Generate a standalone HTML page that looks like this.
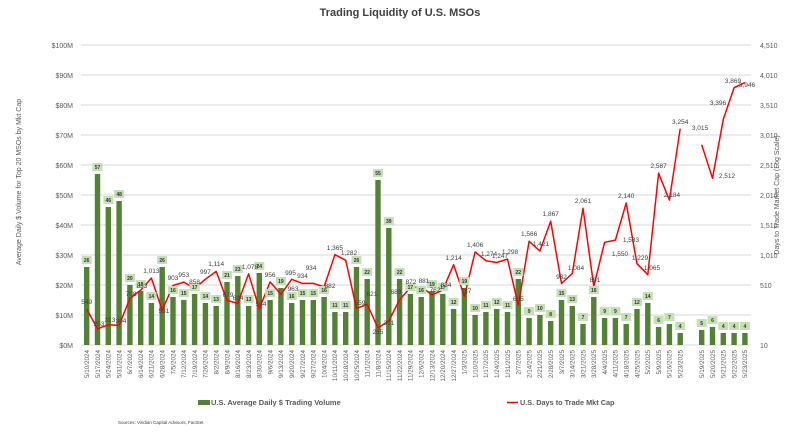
<!DOCTYPE html>
<html><head><meta charset="utf-8"><style>
body{margin:0;background:#fff}
svg{display:block;font-family:"Liberation Sans",sans-serif}
.g{stroke:#d9d9d9;stroke-width:1}
.t{font-size:7px;fill:#595959}
.b{fill:#548235}
.lb{fill:#c5e0b4}
.bt{font-size:5px;font-weight:bold;fill:#333;text-anchor:middle}
.lt{font-size:6.5px;fill:#404040;text-anchor:middle}
.xl{font-size:6.3px;fill:#595959;text-anchor:end}
</style></head><body>
<svg width="800" height="441" viewBox="0 0 800 441">
<text x="400" y="16" text-anchor="middle" font-size="11" font-weight="bold" fill="#404040">Trading Liquidity of U.S. MSOs</text>
<g class="g">
<line x1="81" x2="751" y1="45" y2="45"/><line x1="81" x2="751" y1="75" y2="75"/><line x1="81" x2="751" y1="105" y2="105"/><line x1="81" x2="751" y1="135" y2="135"/><line x1="81" x2="751" y1="165" y2="165"/><line x1="81" x2="751" y1="195" y2="195"/><line x1="81" x2="751" y1="225" y2="225"/><line x1="81" x2="751" y1="255" y2="255"/><line x1="81" x2="751" y1="285" y2="285"/><line x1="81" x2="751" y1="315" y2="315"/><line x1="81" x2="751" y1="345" y2="345"/>
</g>
<g class="t" text-anchor="end">
<text x="73" y="48">$100M</text><text x="73" y="78">$90M</text><text x="73" y="108">$80M</text><text x="73" y="138">$70M</text><text x="73" y="168">$60M</text><text x="73" y="198">$50M</text><text x="73" y="228">$40M</text><text x="73" y="258">$30M</text><text x="73" y="288">$20M</text><text x="73" y="318">$10M</text><text x="73" y="348">$0M</text>
</g>
<g class="t">
<text x="760" y="48">4,510</text><text x="760" y="78">4,010</text><text x="760" y="108">3,510</text><text x="760" y="138">3,010</text><text x="760" y="168">2,510</text><text x="760" y="198">2,010</text><text x="760" y="228">1,510</text><text x="760" y="258">1,010</text><text x="760" y="288">510</text><text x="760" y="348">10</text>
</g>
<text transform="translate(21,182) rotate(-90)" text-anchor="middle" font-size="7" fill="#595959">Average Daily $ Volume for Top 20 MSOs by Mkt Cap</text>
<text transform="translate(779,195) rotate(-90)" text-anchor="middle" font-size="7" fill="#595959">Days to Trade Market Cap (Log Scale)</text>
<g class="b">
<rect x="84" y="267" width="5.4" height="78"/><rect x="94.8" y="174" width="5.4" height="171"/><rect x="105.6" y="207" width="5.4" height="138"/><rect x="116.4" y="201" width="5.4" height="144"/><rect x="127.2" y="285" width="5.4" height="60"/><rect x="138" y="291" width="5.4" height="54"/><rect x="148.7" y="303" width="5.4" height="42"/><rect x="159.5" y="267" width="5.4" height="78"/><rect x="170.3" y="297" width="5.4" height="48"/><rect x="181.1" y="300" width="5.4" height="45"/><rect x="191.9" y="294" width="5.4" height="51"/><rect x="202.7" y="303" width="5.4" height="42"/><rect x="213.5" y="306" width="5.4" height="39"/><rect x="224.3" y="282" width="5.4" height="63"/><rect x="235.1" y="276" width="5.4" height="69"/><rect x="245.9" y="306" width="5.4" height="39"/><rect x="256.6" y="273" width="5.4" height="72"/><rect x="267.4" y="300" width="5.4" height="45"/><rect x="278.2" y="288" width="5.4" height="57"/><rect x="289" y="303" width="5.4" height="42"/><rect x="299.8" y="300" width="5.4" height="45"/><rect x="310.6" y="300" width="5.4" height="45"/><rect x="321.4" y="297" width="5.4" height="48"/><rect x="332.2" y="312" width="5.4" height="33"/><rect x="343" y="312" width="5.4" height="33"/><rect x="353.8" y="267" width="5.4" height="78"/><rect x="364.5" y="279" width="5.4" height="66"/><rect x="375.3" y="180" width="5.4" height="165"/><rect x="386.1" y="228" width="5.4" height="117"/><rect x="396.9" y="279" width="5.4" height="66"/><rect x="407.7" y="294" width="5.4" height="51"/><rect x="418.5" y="297" width="5.4" height="48"/><rect x="429.3" y="291" width="5.4" height="54"/><rect x="440.1" y="294" width="5.4" height="51"/><rect x="450.9" y="309" width="5.4" height="36"/><rect x="461.7" y="288" width="5.4" height="57"/><rect x="472.4" y="315" width="5.4" height="30"/><rect x="483.2" y="312" width="5.4" height="33"/><rect x="494" y="309" width="5.4" height="36"/><rect x="504.8" y="312" width="5.4" height="33"/><rect x="515.6" y="279" width="5.4" height="66"/><rect x="526.4" y="318" width="5.4" height="27"/><rect x="537.2" y="315" width="5.4" height="30"/><rect x="548" y="321" width="5.4" height="24"/><rect x="558.8" y="300" width="5.4" height="45"/><rect x="569.6" y="306" width="5.4" height="39"/><rect x="580.3" y="324" width="5.4" height="21"/><rect x="591.1" y="297" width="5.4" height="48"/><rect x="601.9" y="318" width="5.4" height="27"/><rect x="612.7" y="318" width="5.4" height="27"/><rect x="623.5" y="324" width="5.4" height="21"/><rect x="634.3" y="309" width="5.4" height="36"/><rect x="645.1" y="303" width="5.4" height="42"/><rect x="655.9" y="327" width="5.4" height="18"/><rect x="666.7" y="324" width="5.4" height="21"/><rect x="677.5" y="333" width="5.4" height="12"/><rect x="699" y="330" width="5.4" height="15"/><rect x="709.8" y="327" width="5.4" height="18"/><rect x="720.6" y="333" width="5.4" height="12"/><rect x="731.4" y="333" width="5.4" height="12"/><rect x="742.2" y="333" width="5.4" height="12"/>
</g>
<polyline fill="none" stroke="#ff0000" stroke-width="1.5" stroke-linejoin="round" points="86.7,309.1 97.5,328.8 108.3,324.8 119.1,325.4 129.9,298.5 140.7,290.1 151.4,278.1 162.2,310.3 173,285.5 183.8,282.1 194.6,288.5 205.4,279.2 216.2,271.4 227,300.4 237.8,303.4 248.6,273.8 259.3,308.7 270.1,281.9 280.9,294.3 291.7,279.3 302.5,283.4 313.3,283.4 324.1,286.9 334.9,254.7 345.7,260.2 356.5,308.4 367.2,304.3 378,328 388.8,320.9 399.6,299.7 410.4,287.5 421.2,286.9 432,294.9 442.8,290.1 453.6,264.7 464.4,296.5 475.1,251.9 485.9,260.7 496.7,262.5 507.5,259.1 518.3,305.3 529.1,241.3 539.9,250.9 550.7,221.2 561.5,283.5 572.3,273.4 583,208.3 593.8,286.3 604.6,242.3 615.4,240.1 626.2,203 637,263.7 647.8,274.7 658.6,173.2 669.4,200.1 680.2,128.7"/>
<polyline fill="none" stroke="#ff0000" stroke-width="1.5" stroke-linejoin="round" points="701.7,144.7 712.5,178.2 723.3,119.3 734.1,87.7 744.9,82.6"/>
<g class="lb">
<rect x="81.7" y="256" width="10" height="8"/><rect x="92.5" y="163" width="10" height="8"/><rect x="103.3" y="196" width="10" height="8"/><rect x="114.1" y="190" width="10" height="8"/><rect x="124.9" y="274" width="10" height="8"/><rect x="135.7" y="280" width="10" height="8"/><rect x="146.4" y="292" width="10" height="8"/><rect x="157.2" y="256" width="10" height="8"/><rect x="168" y="286" width="10" height="8"/><rect x="178.8" y="289" width="10" height="8"/><rect x="189.6" y="283" width="10" height="8"/><rect x="200.4" y="292" width="10" height="8"/><rect x="211.2" y="295" width="10" height="8"/><rect x="222" y="271" width="10" height="8"/><rect x="232.8" y="265" width="10" height="8"/><rect x="243.6" y="295" width="10" height="8"/><rect x="254.3" y="262" width="10" height="8"/><rect x="265.1" y="289" width="10" height="8"/><rect x="275.9" y="277" width="10" height="8"/><rect x="286.7" y="292" width="10" height="8"/><rect x="297.5" y="289" width="10" height="8"/><rect x="308.3" y="289" width="10" height="8"/><rect x="319.1" y="286" width="10" height="8"/><rect x="329.9" y="301" width="10" height="8"/><rect x="340.7" y="301" width="10" height="8"/><rect x="351.5" y="256" width="10" height="8"/><rect x="362.2" y="268" width="10" height="8"/><rect x="373" y="169" width="10" height="8"/><rect x="383.8" y="217" width="10" height="8"/><rect x="394.6" y="268" width="10" height="8"/><rect x="405.4" y="283" width="10" height="8"/><rect x="416.2" y="286" width="10" height="8"/><rect x="427" y="280" width="10" height="8"/><rect x="437.8" y="283" width="10" height="8"/><rect x="448.6" y="298" width="10" height="8"/><rect x="459.4" y="277" width="10" height="8"/><rect x="470.1" y="304" width="10" height="8"/><rect x="480.9" y="301" width="10" height="8"/><rect x="491.7" y="298" width="10" height="8"/><rect x="502.5" y="301" width="10" height="8"/><rect x="513.3" y="268" width="10" height="8"/><rect x="524.1" y="307" width="10" height="8"/><rect x="534.9" y="304" width="10" height="8"/><rect x="545.7" y="310" width="10" height="8"/><rect x="556.5" y="289" width="10" height="8"/><rect x="567.3" y="295" width="10" height="8"/><rect x="578" y="313" width="10" height="8"/><rect x="588.8" y="286" width="10" height="8"/><rect x="599.6" y="307" width="10" height="8"/><rect x="610.4" y="307" width="10" height="8"/><rect x="621.2" y="313" width="10" height="8"/><rect x="632" y="298" width="10" height="8"/><rect x="642.8" y="292" width="10" height="8"/><rect x="653.6" y="316" width="10" height="8"/><rect x="664.4" y="313" width="10" height="8"/><rect x="675.2" y="322" width="10" height="8"/><rect x="696.7" y="319" width="10" height="8"/><rect x="707.5" y="316" width="10" height="8"/><rect x="718.3" y="322" width="10" height="8"/><rect x="729.1" y="322" width="10" height="8"/><rect x="739.9" y="322" width="10" height="8"/>
</g>
<g class="bt">
<text x="86.7" y="262">26</text><text x="97.5" y="169">57</text><text x="108.3" y="202">46</text><text x="119.1" y="196">48</text><text x="129.9" y="280">20</text><text x="140.7" y="286">18</text><text x="151.4" y="298">14</text><text x="162.2" y="262">26</text><text x="173" y="292">16</text><text x="183.8" y="295">15</text><text x="194.6" y="289">17</text><text x="205.4" y="298">14</text><text x="216.2" y="301">13</text><text x="227" y="277">21</text><text x="237.8" y="271">23</text><text x="248.6" y="301">13</text><text x="259.3" y="268">24</text><text x="270.1" y="295">15</text><text x="280.9" y="283">19</text><text x="291.7" y="298">16</text><text x="302.5" y="295">15</text><text x="313.3" y="295">15</text><text x="324.1" y="292">16</text><text x="334.9" y="307">11</text><text x="345.7" y="307">11</text><text x="356.5" y="262">26</text><text x="367.2" y="274">22</text><text x="378" y="175">55</text><text x="388.8" y="223">39</text><text x="399.6" y="274">22</text><text x="410.4" y="289">17</text><text x="421.2" y="292">16</text><text x="432" y="286">19</text><text x="442.8" y="289">17</text><text x="453.6" y="304">12</text><text x="464.4" y="283">19</text><text x="475.1" y="310">10</text><text x="485.9" y="307">11</text><text x="496.7" y="304">12</text><text x="507.5" y="307">11</text><text x="518.3" y="274">22</text><text x="529.1" y="313">9</text><text x="539.9" y="310">10</text><text x="550.7" y="316">8</text><text x="561.5" y="295">15</text><text x="572.3" y="301">13</text><text x="583" y="319">7</text><text x="593.8" y="292">16</text><text x="604.6" y="313">9</text><text x="615.4" y="313">9</text><text x="626.2" y="319">7</text><text x="637" y="304">12</text><text x="647.8" y="298">14</text><text x="658.6" y="322">6</text><text x="669.4" y="319">7</text><text x="680.2" y="328">4</text><text x="701.7" y="325">5</text><text x="712.5" y="322">6</text><text x="723.3" y="328">4</text><text x="734.1" y="328">4</text><text x="744.9" y="328">4</text>
</g>
<g class="lt">
<text x="86.7" y="304">549</text><text x="99" y="326">253</text><text x="110" y="322">313</text><text x="121" y="323">304</text><text x="131" y="296">708</text><text x="142" y="288">833</text><text x="151.4" y="273">1,013</text><text x="164" y="313">531</text><text x="173" y="280">903</text><text x="183.8" y="277">953</text><text x="194.6" y="284">858</text><text x="205.4" y="274">997</text><text x="216.2" y="266">1,114</text><text x="228" y="297">679</text><text x="238" y="300">634</text><text x="250" y="269">1,078</text><text x="261" y="306">554</text><text x="270.1" y="277">956</text><text x="293" y="291">963</text><text x="290.5" y="275">995</text><text x="311" y="270">934</text><text x="302.5" y="278">934</text><text x="330" y="288">882</text><text x="334.9" y="250">1,365</text><text x="349" y="255">1,282</text><text x="360" y="305">559</text><text x="372" y="296">621</text><text x="378" y="334">265</text><text x="389" y="325">371</text><text x="396" y="294">689</text><text x="411" y="284">872</text><text x="424" y="283">881</text><text x="435" y="292">762</text><text x="446" y="287">834</text><text x="453.6" y="260">1,214</text><text x="466" y="293">737</text><text x="475.1" y="247">1,406</text><text x="489" y="256">1,274</text><text x="500" y="258">1,247</text><text x="510" y="254">1,298</text><text x="518.3" y="301">605</text><text x="529.1" y="236">1,566</text><text x="541" y="246">1,421</text><text x="550.7" y="216">1,867</text><text x="561.5" y="279">932</text><text x="576" y="270">1,084</text><text x="583" y="203">2,061</text><text x="595" y="282">891</text><text x="620" y="256">1,550</text><text x="631" y="242">1,583</text><text x="626.2" y="198">2,140</text><text x="640" y="260">1,229</text><text x="652" y="270">1,065</text><text x="658.6" y="168">2,587</text><text x="672" y="197">2,184</text><text x="680.2" y="124">3,254</text><text x="700" y="130">3,015</text><text x="727" y="178">2,512</text><text x="718" y="105">3,396</text><text x="733" y="83">3,869</text><text x="747" y="87">3,946</text>
</g>
<g class="xl">
<text transform="translate(89,350) rotate(-90)">5/10/2024</text><text transform="translate(99.8,350) rotate(-90)">5/17/2024</text><text transform="translate(110.6,350) rotate(-90)">5/24/2024</text><text transform="translate(121.4,350) rotate(-90)">5/31/2024</text><text transform="translate(132.2,350) rotate(-90)">6/7/2024</text><text transform="translate(143,350) rotate(-90)">6/14/2024</text><text transform="translate(153.7,350) rotate(-90)">6/21/2024</text><text transform="translate(164.5,350) rotate(-90)">6/28/2024</text><text transform="translate(175.3,350) rotate(-90)">7/5/2024</text><text transform="translate(186.1,350) rotate(-90)">7/12/2024</text><text transform="translate(196.9,350) rotate(-90)">7/19/2024</text><text transform="translate(207.7,350) rotate(-90)">7/26/2024</text><text transform="translate(218.5,350) rotate(-90)">8/2/2024</text><text transform="translate(229.3,350) rotate(-90)">8/9/2024</text><text transform="translate(240.1,350) rotate(-90)">8/16/2024</text><text transform="translate(250.9,350) rotate(-90)">8/23/2024</text><text transform="translate(261.6,350) rotate(-90)">8/30/2024</text><text transform="translate(272.4,350) rotate(-90)">9/6/2024</text><text transform="translate(283.2,350) rotate(-90)">9/13/2024</text><text transform="translate(294,350) rotate(-90)">9/20/2024</text><text transform="translate(304.8,350) rotate(-90)">9/27/2024</text><text transform="translate(315.6,350) rotate(-90)">9/27/2024</text><text transform="translate(326.4,350) rotate(-90)">10/4/2024</text><text transform="translate(337.2,350) rotate(-90)">10/11/2024</text><text transform="translate(348,350) rotate(-90)">10/18/2024</text><text transform="translate(358.8,350) rotate(-90)">10/25/2024</text><text transform="translate(369.5,350) rotate(-90)">11/1/2024</text><text transform="translate(380.3,350) rotate(-90)">11/8/2024</text><text transform="translate(391.1,350) rotate(-90)">11/15/2024</text><text transform="translate(401.9,350) rotate(-90)">11/22/2024</text><text transform="translate(412.7,350) rotate(-90)">11/29/2024</text><text transform="translate(423.5,350) rotate(-90)">12/6/2024</text><text transform="translate(434.3,350) rotate(-90)">12/13/2024</text><text transform="translate(445.1,350) rotate(-90)">12/20/2024</text><text transform="translate(455.9,350) rotate(-90)">12/27/2024</text><text transform="translate(466.7,350) rotate(-90)">1/3/2025</text><text transform="translate(477.4,350) rotate(-90)">1/10/2025</text><text transform="translate(488.2,350) rotate(-90)">1/17/2025</text><text transform="translate(499,350) rotate(-90)">1/24/2025</text><text transform="translate(509.8,350) rotate(-90)">1/31/2025</text><text transform="translate(520.6,350) rotate(-90)">2/7/2025</text><text transform="translate(531.4,350) rotate(-90)">2/14/2025</text><text transform="translate(542.2,350) rotate(-90)">2/21/2025</text><text transform="translate(553,350) rotate(-90)">2/28/2025</text><text transform="translate(563.8,350) rotate(-90)">3/7/2025</text><text transform="translate(574.6,350) rotate(-90)">3/14/2025</text><text transform="translate(585.3,350) rotate(-90)">3/21/2025</text><text transform="translate(596.1,350) rotate(-90)">3/28/2025</text><text transform="translate(606.9,350) rotate(-90)">4/4/2025</text><text transform="translate(617.7,350) rotate(-90)">4/11/2025</text><text transform="translate(628.5,350) rotate(-90)">4/18/2025</text><text transform="translate(639.3,350) rotate(-90)">4/25/2025</text><text transform="translate(650.1,350) rotate(-90)">5/2/2025</text><text transform="translate(660.9,350) rotate(-90)">5/9/2025</text><text transform="translate(671.7,350) rotate(-90)">5/16/2025</text><text transform="translate(682.5,350) rotate(-90)">5/23/2025</text><text transform="translate(704,350) rotate(-90)">5/19/2025</text><text transform="translate(714.8,350) rotate(-90)">5/20/2025</text><text transform="translate(725.6,350) rotate(-90)">5/21/2025</text><text transform="translate(736.4,350) rotate(-90)">5/22/2025</text><text transform="translate(747.2,350) rotate(-90)">5/23/2025</text>
</g>
<rect x="198" y="400" width="12" height="5" fill="#548235"/>
<text x="211" y="405" font-size="7.5" font-weight="bold" fill="#595959">U.S. Average Daily $ Trading Volume</text>
<line x1="507" x2="518" y1="402.5" y2="402.5" stroke="#ff0000" stroke-width="1.5"/>
<text x="520" y="405" font-size="7.3" font-weight="bold" fill="#595959">U.S. Days to Trade Mkt Cap</text>
<text x="118" y="424" font-size="4.5" fill="#404040">Sources: Viridian Capital Advisors, FactSet</text>
</svg>
</body></html>
